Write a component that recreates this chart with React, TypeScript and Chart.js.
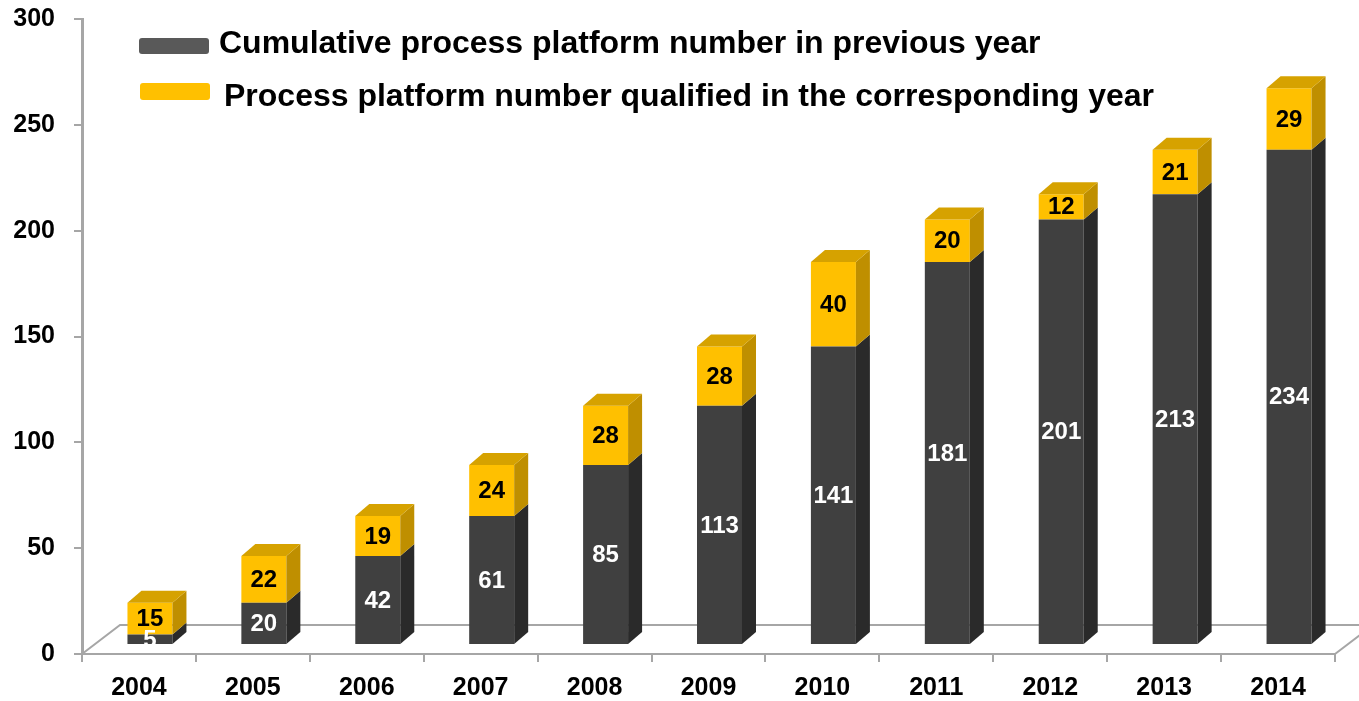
import React, { useEffect, useRef } from "react";
import { Chart, registerables } from "chart.js";

Chart.register(...registerables);

const years = ["2004", "2005", "2006", "2007", "2008", "2009", "2010", "2011", "2012", "2013", "2014"];
const cumulativePrevious = [5, 20, 42, 61, 85, 113, 141, 181, 201, 213, 234];
const qualifiedThisYear = [15, 22, 19, 24, 28, 28, 40, 20, 12, 21, 29];
const seriesLabels = [
  "Cumulative process platform number in previous year",
  "Process platform number qualified in the corresponding year",
];
const yMin = 0;
const yMax = 300;
const yStep = 50;

const FONT = "'Liberation Sans', Arial, Helvetica, sans-serif";
const frontColors = ["#404040", "#FFC000"];
const sideColors = ["#2A2A2A", "#BF8F00"];
const topColors = ["#505050", "#D6A200"];
const labelColors = ["#FFFFFF", "#000000"];
const legendColors = ["#595959", "#FFC000"];

const DX = 14;
const DY = 12;
const SHIFT_X = 11;
const SHIFT_Y = -9;
const FLOOR_DX = 38;
const FLOOR_DY = 29;

const floorPlugin = {
  id: "floor3d",
  beforeDatasetsDraw(chart: any) {
    const { ctx, chartArea } = chart;
    const { left, right, bottom } = chartArea;
    ctx.save();
    ctx.strokeStyle = "#A6A6A6";
    ctx.lineWidth = 2;
    ctx.beginPath();
    ctx.moveTo(left, bottom);
    ctx.lineTo(left + FLOOR_DX, bottom - FLOOR_DY);
    ctx.lineTo(right + FLOOR_DX, bottom - FLOOR_DY);
    ctx.moveTo(right, bottom);
    ctx.lineTo(right + FLOOR_DX, bottom - FLOOR_DY);
    ctx.stroke();
    ctx.restore();
    ctx.save();
    ctx.translate(SHIFT_X, SHIFT_Y);
  },
  afterDatasetsDraw(chart: any) {
    const ctx = chart.ctx;
    const n = chart.data.datasets.length;
    const labelsToDraw: any[] = [];
    chart.data.datasets.forEach((ds: any, di: number) => {
      const meta = chart.getDatasetMeta(di);
      meta.data.forEach((el: any, i: number) => {
        const { x, y, base, width } = el.getProps(["x", "y", "base", "width"], true);
        const l = x - width / 2;
        const r = x + width / 2;
        const top = Math.min(y, base);
        const bot = Math.max(y, base);
        ctx.fillStyle = sideColors[di];
        ctx.beginPath();
        ctx.moveTo(r, top);
        ctx.lineTo(r + DX, top - DY);
        ctx.lineTo(r + DX, bot - DY);
        ctx.lineTo(r, bot);
        ctx.closePath();
        ctx.fill();
        if (di === n - 1) {
          ctx.fillStyle = topColors[di];
          ctx.beginPath();
          ctx.moveTo(l, top);
          ctx.lineTo(l + DX, top - DY);
          ctx.lineTo(r + DX, top - DY);
          ctx.lineTo(r, top);
          ctx.closePath();
          ctx.fill();
        }
        labelsToDraw.push({ x, y: (top + bot) / 2, text: String(ds.data[i]), color: labelColors[di] });
      });
    });
    ctx.font = `bold 24px ${FONT}`;
    ctx.textAlign = "center";
    ctx.textBaseline = "middle";
    labelsToDraw.forEach((lb) => {
      ctx.fillStyle = lb.color;
      ctx.fillText(lb.text, lb.x, lb.y + 1);
    });
    ctx.restore();
  },
};

const legendPlugin = {
  id: "customLegend",
  afterDraw(chart: any) {
    const ctx = chart.ctx;
    const items = [
      { bx: 139, by: 38, bw: 70, bh: 16, tx: 219, ty: 53 },
      { bx: 140, by: 83, bw: 70, bh: 17, tx: 224, ty: 106 },
    ];
    ctx.save();
    chart.data.datasets.forEach((ds: any, di: number) => {
      const it = items[di];
      ctx.fillStyle = legendColors[di];
      ctx.beginPath();
      (ctx as any).roundRect(it.bx, it.by, it.bw, it.bh, 3);
      ctx.fill();
      ctx.fillStyle = "#000000";
      ctx.font = `bold 32px ${FONT}`;
      ctx.textAlign = "left";
      ctx.textBaseline = "alphabetic";
      ctx.fillText(ds.label, it.tx, it.ty);
    });
    ctx.restore();
  },
};

export default function App() {
  const canvasRef = useRef<HTMLCanvasElement | null>(null);

  useEffect(() => {
    document.body.style.margin = "0";
    const canvas = canvasRef.current;
    if (!canvas) return;
    const chart = new Chart(canvas, {
      type: "bar",
      data: {
        labels: years,
        datasets: [
          {
            label: seriesLabels[0],
            data: cumulativePrevious,
            backgroundColor: frontColors[0],
            borderWidth: 0,
            categoryPercentage: 1,
            barPercentage: 0.395,
          },
          {
            label: seriesLabels[1],
            data: qualifiedThisYear,
            backgroundColor: frontColors[1],
            borderWidth: 0,
            categoryPercentage: 1,
            barPercentage: 0.395,
          },
        ],
      },
      options: {
        animation: false,
        responsive: true,
        maintainAspectRatio: false,
        layout: { padding: { top: 19, right: 24, left: 0, bottom: 0 } },
        plugins: {
          legend: { display: false },
          tooltip: { enabled: false },
        },
        scales: {
          x: {
            stacked: true,
            grid: {
              offset: true,
              drawOnChartArea: false,
              drawTicks: true,
              tickLength: 8,
              color: "#A6A6A6",
              lineWidth: 2,
            },
            border: { display: true, color: "#A6A6A6", width: 2 },
            ticks: {
              color: "#000000",
              font: { family: FONT, size: 25, weight: "bold" },
              padding: 11,
              maxRotation: 0,
              autoSkip: false,
            },
            afterFit: (scale: any) => {
              scale.height = 47;
              scale.paddingLeft = 0;
              scale.paddingRight = 0;
            },
          },
          y: {
            stacked: true,
            min: yMin,
            max: yMax,
            grid: {
              drawOnChartArea: false,
              drawTicks: true,
              tickLength: 8,
              color: "#A6A6A6",
              lineWidth: 2,
            },
            border: { display: true, color: "#A6A6A6", width: 3 },
            ticks: {
              stepSize: yStep,
              color: "#000000",
              font: { family: FONT, size: 25, weight: "bold" },
              padding: 19,
            },
            afterFit: (scale: any) => {
              scale.width = 82;
              scale.paddingTop = 0;
              scale.paddingBottom = 0;
            },
          },
        },
      },
      plugins: [floorPlugin, legendPlugin],
    });
    return () => chart.destroy();
  }, []);

  return (
    <div style={{ position: "absolute", left: 0, top: 0, width: 1359, height: 701 }}>
      <canvas ref={canvasRef} />
    </div>
  );
}
